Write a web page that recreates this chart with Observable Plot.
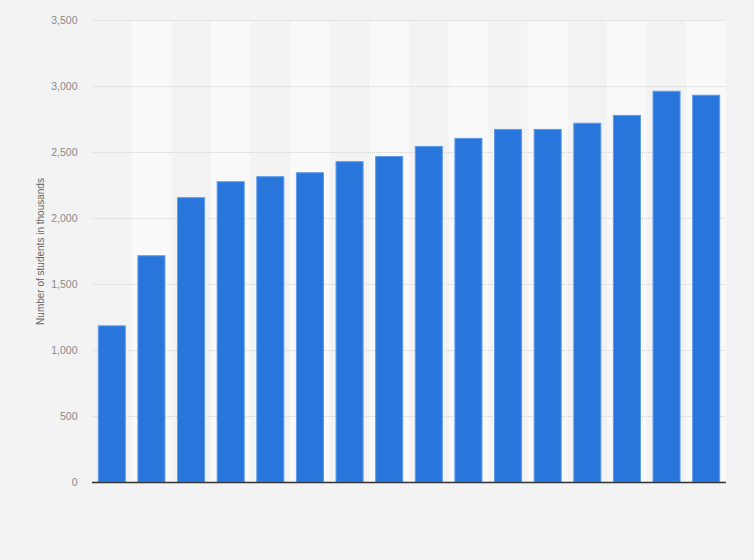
<!DOCTYPE html>
<html>
<head>
<meta charset="utf-8">
<script src="https://cdn.jsdelivr.net/npm/d3@7"></script>
<script src="https://cdn.jsdelivr.net/npm/@observablehq/plot@0.6"></script>
<style>
  html, body { margin: 0; padding: 0; background: #f3f3f3; }
  #chart { width: 754px; height: 560px; }
</style>
</head>
<body>
<div id="chart"></div>
<script>
const categories = ["1","2","3","4","5","6","7","8","9","10","11","12","13","14","15","16"];
const students = [1183, 1714, 2154, 2275, 2313, 2343, 2427, 2466, 2542, 2603, 2671, 2671, 2718, 2777, 2960, 2930];
const yTicks = [0, 500, 1000, 1500, 2000, 2500, 3000, 3500];
const yLabel = "Number of students in thousands";

const data = categories.map((c, i) => ({category: c, value: students[i], index: i}));
const bands = data.filter(d => d.index % 2 === 1);

const chart = Plot.plot({
  width: 754,
  height: 560,
  marginLeft: 92,
  marginRight: 28,
  marginTop: 20,
  marginBottom: 78,
  style: {background: "#f3f3f3", fontFamily: "'Liberation Sans', Arial, sans-serif"},
  x: {type: "band", domain: categories, padding: 0, round: false, axis: null},
  y: {domain: [0, 3500], ticks: yTicks},
  marks: [
    Plot.barY(bands, {x: "category", y1: 0, y2: 3500, fill: "#f9f9f9"}),
    Plot.gridY(yTicks.filter(t => t > 0), {stroke: "#d2d2d2", strokeOpacity: 1, strokeDasharray: "1,1"}),
    Plot.axisY({
      ticks: yTicks,
      tickSize: 0,
      tickPadding: 15,
      tickFormat: d3.format(","),
      fill: "#8a8a8a",
      fontSize: 10.5,
      label: yLabel,
      labelAnchor: "center",
      labelArrow: "none",
      labelOffset: 56
    }),
    Plot.barY(data, {x: "category", y: "value", fill: "#2876dc", stroke: "#5d9be8", strokeWidth: 1, insetLeft: 6.3, insetRight: 6.3}),
    Plot.ruleY([0], {stroke: "#333", strokeWidth: 1.5})
  ]
});
chart.querySelectorAll("g[aria-label='y-axis label'] text").forEach(t => { t.setAttribute("fill", "#666"); t.style.fontSize = "10px"; });
document.getElementById("chart").appendChild(chart);
</script>
</body>
</html>
